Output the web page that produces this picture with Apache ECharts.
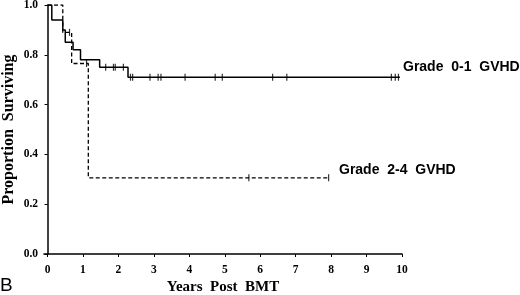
<!DOCTYPE html>
<html>
<head>
<meta charset="utf-8">
<script src="https://cdn.jsdelivr.net/npm/echarts@6/dist/echarts.min.js"></script>
<style>
  html, body { margin: 0; padding: 0; background: #fff; }
  #chart { width: 520px; height: 295px; }
</style>
</head>
<body>
<div id="chart"></div>
<script>
// Kaplan-Meier steps, [years post BMT, proportion surviving]
const grade01Steps = [
  [0, 1.0], [0.12, 0.94], [0.43, 0.9], [0.5, 0.85], [0.72, 0.82],
  [0.93, 0.78], [1.47, 0.75], [2.27, 0.71], [9.94, 0.71]
];
const grade24Steps = [
  [0, 1.0], [0.43, 0.89], [0.68, 0.765], [1.15, 0.306], [7.93, 0.306]
];

// censored patients (tick marks)
const grade01Censored = [
  [1.64, 0.75], [1.86, 0.75], [1.91, 0.75], [2.14, 0.75],
  [2.34, 0.71], [2.4, 0.71], [2.89, 0.71], [3.12, 0.71], [3.2, 0.71],
  [3.88, 0.71], [4.73, 0.71], [4.93, 0.71], [6.35, 0.71], [6.75, 0.71],
  [9.7, 0.71], [9.81, 0.71], [9.9, 0.71]
];
const grade24Censored = [[0.62, 0.89], [1.1, 0.765], [5.68, 0.306], [7.93, 0.306]];

const xTicks = [0, 1, 2, 3, 4, 5, 6, 7, 8, 9, 10];
const seriesNames = ["Grade  0-1  GVHD", "Grade  2-4  GVHD"];

const chart = echarts.init(document.getElementById("chart"));

const serif = "'Liberation Serif', 'DejaVu Serif', serif";
const sans = "'Liberation Sans', Arial, sans-serif";

const censorMark = {
  type: "scatter",
  symbol: "rect",
  symbolSize: [1.2, 7],
  itemStyle: { color: "#000" },
  silent: true,
  z: 3,
};

const option = {
  animation: false,
  // v6 shrinks the grid to fit labels by default; keep it fixed
  grid: { left: 44, right: 118, top: 5, bottom: 41, outerBoundsMode: "none" },

  xAxis: {
    type: "value",
    min: -0.1,
    max: 10,
    name: "Years  Post  BMT",
    nameLocation: "middle",
    nameGap: 26,
    nameMoveOverlap: false,
    nameTextStyle: { fontFamily: serif, fontWeight: "bold", fontSize: 15, color: "#000" },
    axisLine: { show: true, onZero: false, lineStyle: { color: "#000", width: 1.5 } },
    axisTick: { show: true, length: 3, customValues: xTicks, lineStyle: { color: "#000" } },
    axisLabel: {
      customValues: xTicks,
      margin: 10,
      fontFamily: serif,
      fontWeight: "bold",
      fontSize: 11.5,
      color: "#000",
    },
    splitLine: { show: false },
  },

  yAxis: {
    type: "value",
    min: 0,
    max: 1,
    interval: 0.2,
    name: "Proportion  Surviving",
    nameLocation: "middle",
    nameGap: 27,
    nameMoveOverlap: false,
    nameTextStyle: { fontFamily: serif, fontWeight: "bold", fontSize: 16, color: "#000" },
    axisLine: { show: true, lineStyle: { color: "#000", width: 1.5 } },
    axisTick: { show: true, length: 3, lineStyle: { color: "#000" } },
    axisLabel: {
      margin: 6,
      formatter: (v) => v.toFixed(1),
      fontFamily: serif,
      fontWeight: "bold",
      fontSize: 11.5,
      color: "#000",
    },
    splitLine: { show: false },
  },

  series: [
    {
      name: seriesNames[0],
      type: "line",
      step: "end",
      data: grade01Steps,
      symbol: "none",
      lineStyle: { color: "#000", width: 1.5 },
    },
    {
      name: seriesNames[1],
      type: "line",
      step: "end",
      data: grade24Steps,
      symbol: "none",
      lineStyle: { color: "#000", width: 1.3, type: [4, 2.5] },
    },
    { ...censorMark, data: grade01Censored },
    { ...censorMark, data: grade24Censored },
  ],

  graphic: [
    {
      type: "text",
      left: 403,
      top: 60,
      style: { text: seriesNames[0], font: "bold 14px " + sans, fill: "#000" },
    },
    {
      type: "text",
      left: 339,
      top: 163,
      style: { text: seriesNames[1], font: "bold 14px " + sans, fill: "#000" },
    },
    {
      type: "text",
      left: 0,
      top: 276,
      style: { text: "B", font: "19px " + sans, fill: "#000" },
    },
  ],
};

chart.setOption(option);
</script>
</body>
</html>
